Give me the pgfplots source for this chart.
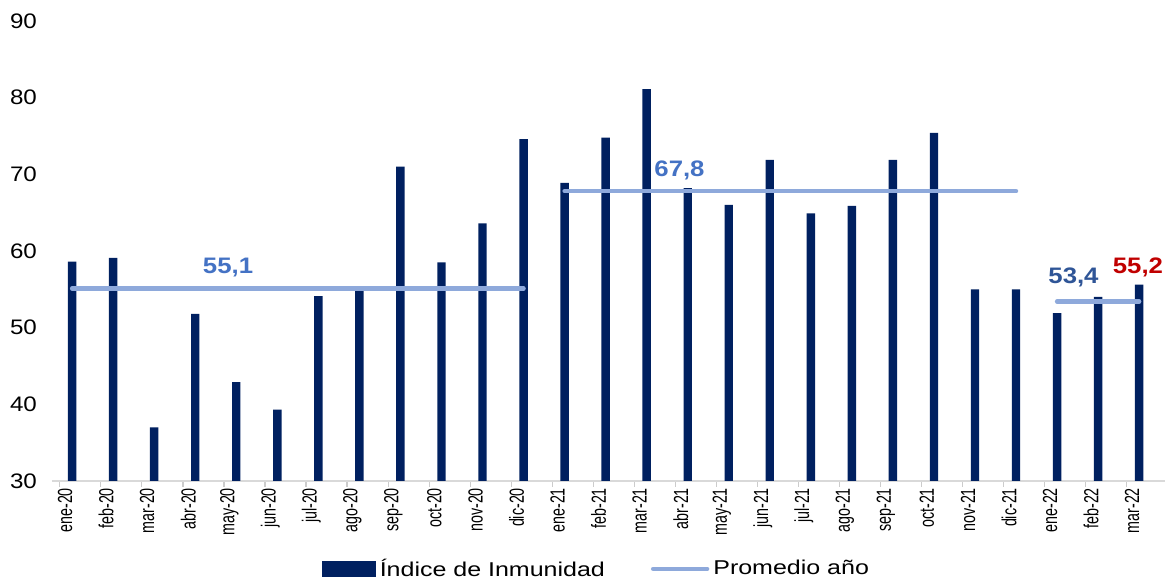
\documentclass[border=0pt]{standalone}
\usepackage{fontspec}
\setmainfont{Liberation Sans}
\newfontfamily\widefont[FakeStretch=1.15]{Liberation Sans}
\newfontfamily\legfont[FakeStretch=1.25]{Liberation Sans}
\newfontfamily\narrowfont[FakeStretch=0.7]{Liberation Sans}
\usepackage{pgfplots}
\pgfplotsset{compat=1.18}
\usepackage{pgfplotstable}

\definecolor{navy}{HTML}{002060}
\definecolor{avgblue}{HTML}{8EA9DB}
\definecolor{lblblue}{HTML}{4472C4}
\definecolor{lbldark}{HTML}{2F5597}
\definecolor{lblred}{HTML}{C00000}

% indice de inmunidad, ene-20 .. mar-22 (x = 0..26)
\pgfplotstableread{
x  val
0  58.6
1  59.1
2  37.0
3  51.8
4  42.9
5  39.3
6  54.1
7  55.4
8  71.0
9  58.5
10 63.6
11 74.6
12 68.9
13 74.8
14 81.1
15 68.2
16 66.0
17 71.9
18 64.9
19 65.9
20 71.9
21 75.4
22 55.0
23 55.0
24 51.9
25 54.0
26 55.6
}\indice

\begin{document}
\begin{tikzpicture}
\begin{axis}[
    name=ax,
    scale only axis,
    width=556.5pt, height=230pt,
    xmin=-0.49, xmax=26.63,
    ymin=30, ymax=90,
    ytick={30,40,...,90},
    xtick={0,...,26},
    xticklabels={ene-20,feb-20,mar-20,abr-20,may-20,jun-20,jul-20,ago-20,sep-20,oct-20,nov-20,dic-20,
                 ene-21,feb-21,mar-21,abr-21,may-21,jun-21,jul-21,ago-21,sep-21,oct-21,nov-21,dic-21,
                 ene-22,feb-22,mar-22},
    minor xtick={-0.3,0.7,...,25.7},
    major tick length=0pt,
    minor tick length=3pt,
    tick align=outside,
    minor tick style={draw=gray!40, line width=0.6pt},
    axis x line*=bottom,
    axis y line*=left,
    x axis line style={draw=gray!30, line width=0.8pt, -},
    y axis line style={draw=none},
    /pgf/number format/assume math mode=true,
    yticklabel style={font=\widefont\fontsize{10.5}{12}\selectfont, xshift=-4pt},
    x tick label style={xshift=-5pt, rotate=90, anchor=east, yshift=-1.5pt,
                        font=\narrowfont\fontsize{10.2}{11}\selectfont},
    legend style={at={(0.49,-0.155)}, anchor=north, draw=none, inner sep=1pt,
                  font=\legfont\fontsize{10}{12}\selectfont,
                  legend columns=2,
                  /tikz/every even column/.append style={column sep=21pt}},
    ]
\addplot[ybar, bar width=4.2pt, fill=navy, draw=none,
    legend image code/.code={\fill[navy] (0pt,-4pt) rectangle (27pt,4pt);}]
    table[x=x, y=val] {\indice};
\addlegendentry{Índice de Inmunidad}

\addplot[avgblue, line width=2.2pt, line cap=round,
    legend image code/.code={\draw[avgblue, line width=2.2pt] (0pt,0pt) -- (27pt,0pt);}]
    coordinates {(0,55.1) (11,55.1)};
\addlegendentry{Promedio año}
\addplot[avgblue, line width=2.2pt, line cap=round, forget plot]
    coordinates {(12,67.8) (23,67.8)};
\addplot[avgblue, line width=2.2pt, line cap=round, forget plot]
    coordinates {(24,53.4) (26,53.4)};

\node[text=lblblue, font=\widefont\bfseries\fontsize{11.2}{13}\selectfont] at (axis cs:3.8,57.9) {55,1};
\node[text=lblblue, font=\widefont\bfseries\fontsize{11.2}{13}\selectfont] at (axis cs:14.8,70.5) {67,8};
\node[text=lbldark, font=\widefont\bfseries\fontsize{11.2}{13}\selectfont] at (axis cs:24.4,56.5) {53,4};
\node[text=lblred, font=\widefont\bfseries\fontsize{11.2}{13}\selectfont] at (axis cs:25.97,57.9) {55,2};
\end{axis}
\pgfresetboundingbox
\path[use as bounding box] ([shift={(-26pt,-52.5pt)}]ax.south west) rectangle ([shift={(2.5pt,10.5pt)}]ax.north east);
\end{tikzpicture}
\end{document}
